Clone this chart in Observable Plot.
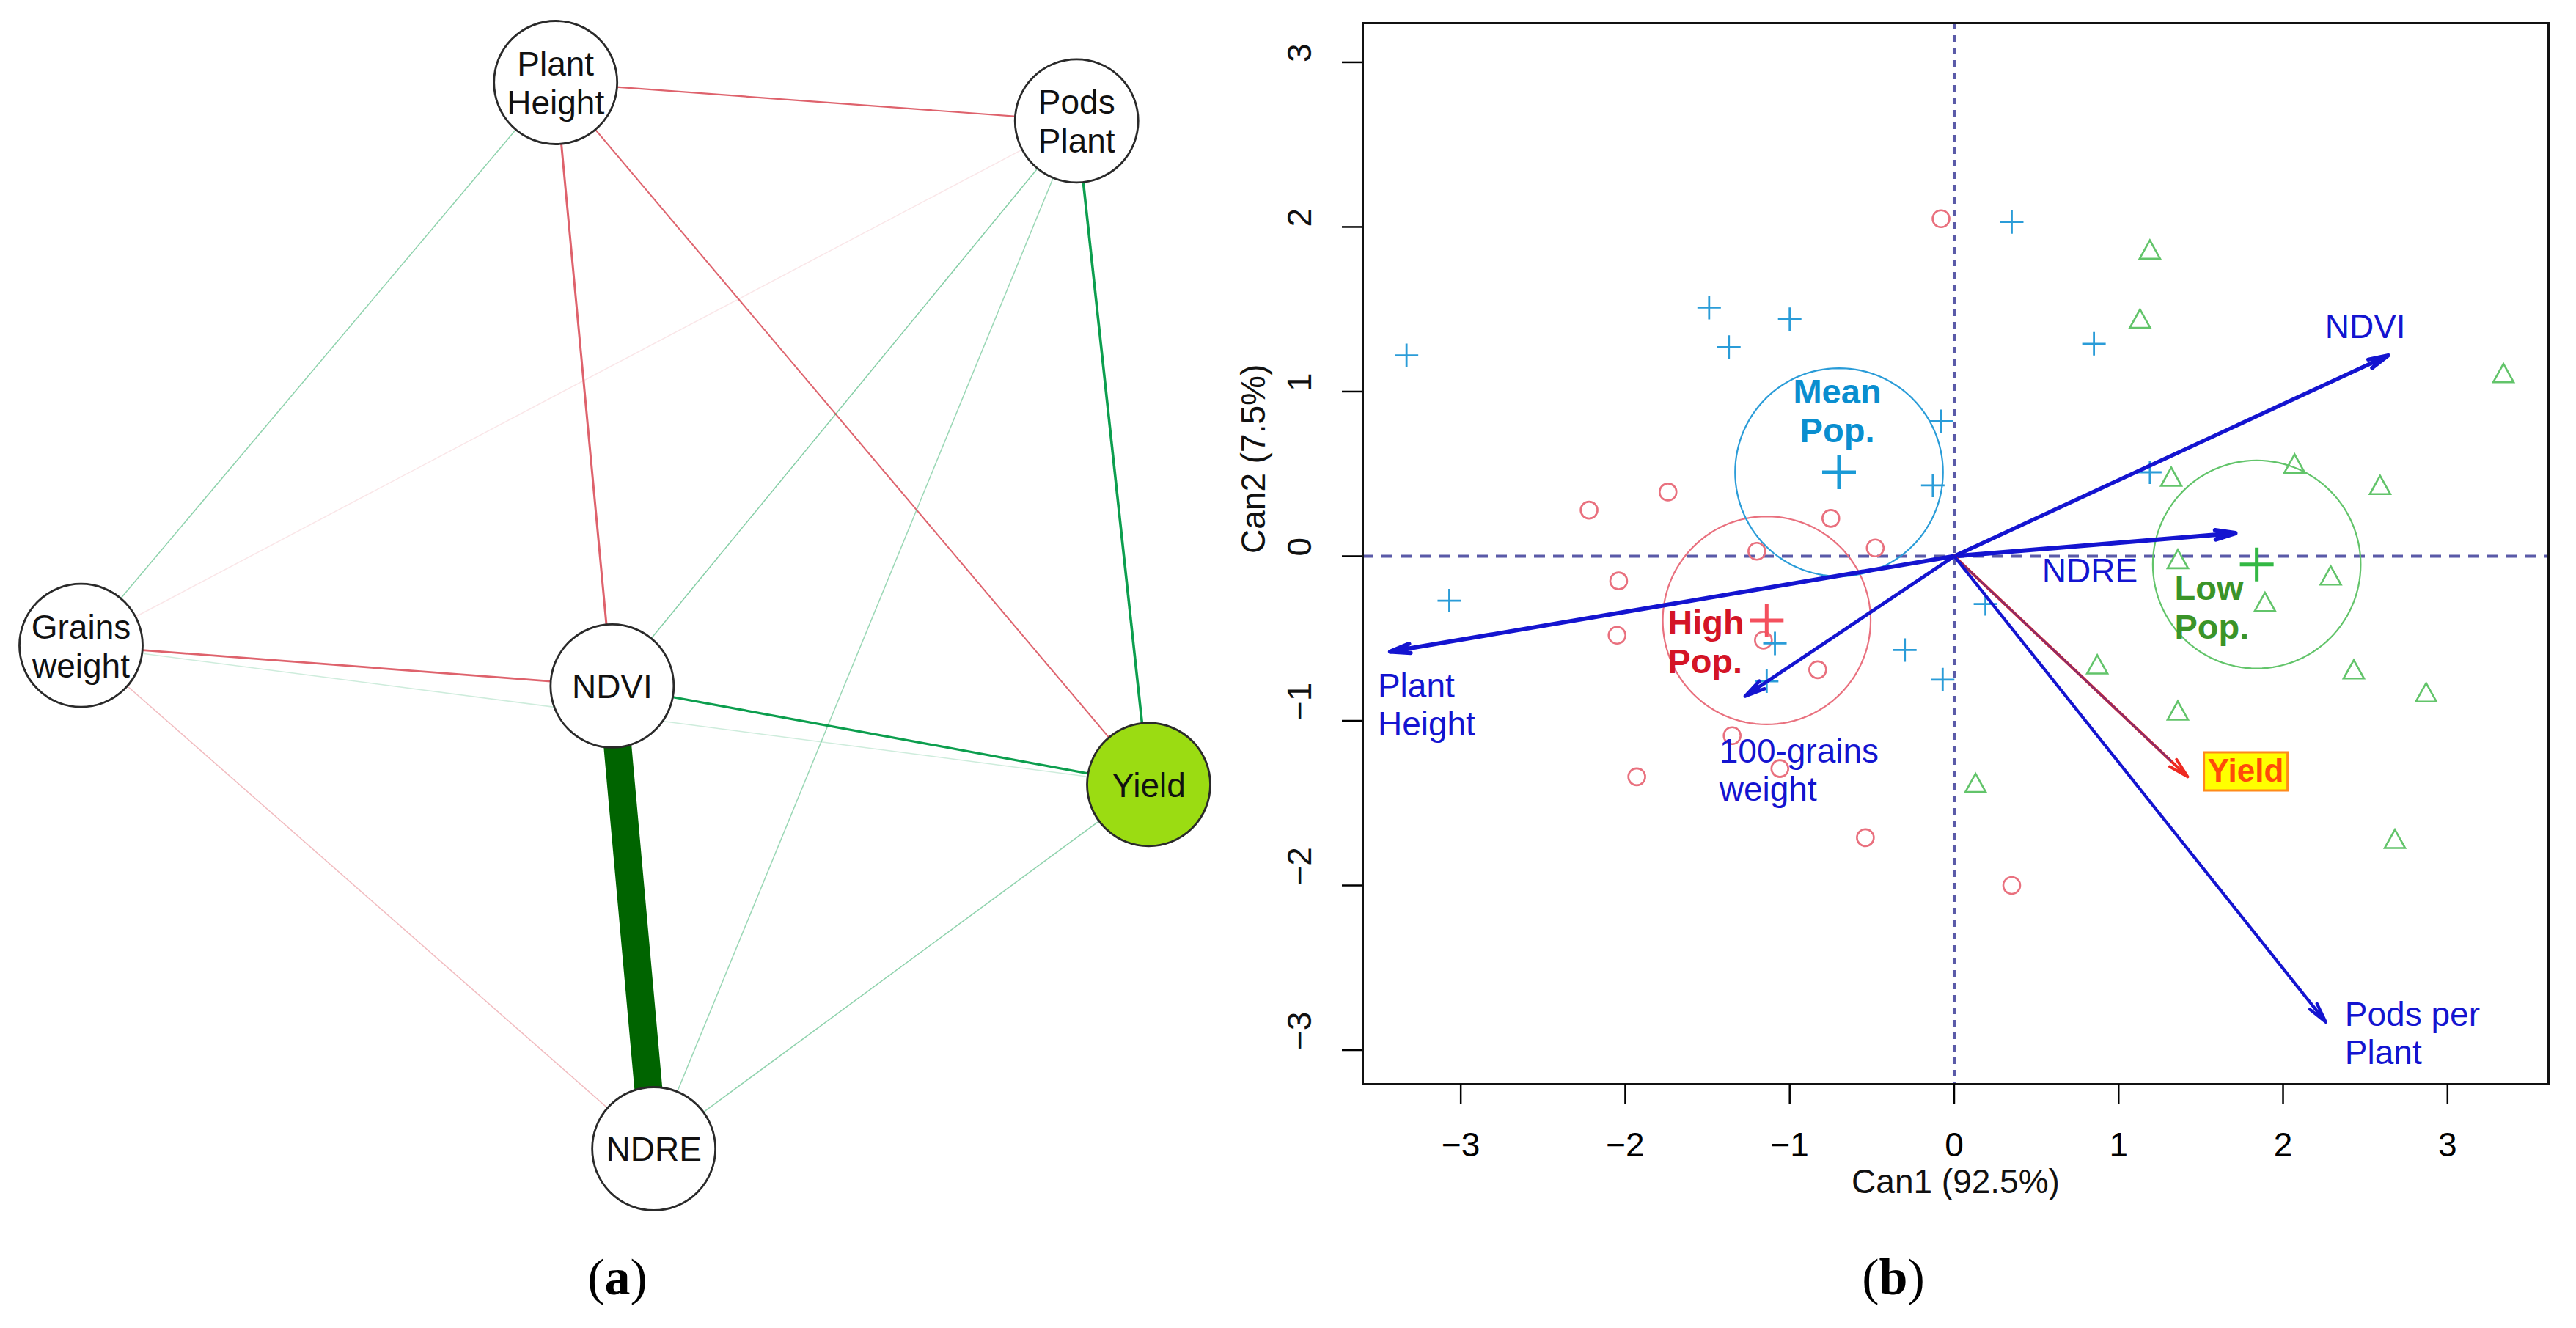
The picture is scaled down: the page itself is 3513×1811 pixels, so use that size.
<!DOCTYPE html>
<html>
<head>
<meta charset="utf-8">
<script src="https://cdn.jsdelivr.net/npm/d3@7"></script>
<script src="https://cdn.jsdelivr.net/npm/@observablehq/plot@0.6"></script>
<style>
  html, body { margin: 0; padding: 0; background: #fff; }
  #wrap { position: relative; width: 3513px; height: 1811px; background: #fff; overflow: hidden; }
  #pa { position: absolute; left: 0; top: 0; z-index: 2; }
  #pb { position: absolute; left: 1640px; top: 0; z-index: 1; }
  .cap { position: absolute; top: 1707px; width: 200px; text-align: center;
         font-family: "Liberation Serif", "Times New Roman", serif; font-size: 70px; line-height: 1; color: #000; }
</style>
</head>
<body>
<div id="wrap">
  <div id="pb"></div>
  <div id="pa"></div>
  <div class="cap" style="left:742px">(<b>a</b>)</div>
  <div class="cap" style="left:2482px">(<b>b</b>)</div>
</div>
<script>
// ---------------- Panel (a): network data ----------------
const nodeNames  = ["Plant Height", "Pods Plant", "Grains weight", "NDVI", "Yield", "NDRE"];
const nodeLabels = ["Plant\nHeight", "Pods\nPlant", "Grains\nweight", "NDVI", "Yield", "NDRE"];
// layout coordinates (normalised qgraph layout, -1..1)
const nodeLayoutX = [-0.111, 0.865, -1.000, -0.005, 1.000, 0.073];
const nodeLayoutY = [ 1.000, 0.928, -0.056, -0.132, -0.317, -1.000];
// edges (partial correlations, estimated)
const edgeFrom   = ["Plant Height", "Plant Height", "Plant Height", "Plant Height", "Pods Plant", "Pods Plant", "Pods Plant", "Pods Plant", "Grains weight", "Grains weight", "Grains weight", "NDVI", "NDVI", "NDRE"];
const edgeTo     = ["Pods Plant", "NDVI", "Yield", "Grains weight", "Yield", "NDVI", "NDRE", "Grains weight", "NDVI", "Yield", "NDRE", "Yield", "NDRE", "Yield"];
const edgeWeight = [-0.055, -0.075, -0.050, 0.028, 0.090, 0.030, 0.025, -0.008, -0.070, 0.012, -0.022, 0.080, 0.950, 0.028];

// ---------------- Panel (b): canonical discriminant data ----------------
const groups = ["High Pop.", "Mean Pop.", "Low Pop."];
const highCan1 = [-0.08, -2.22, -1.74, -0.75, -0.48, -1.20, -2.04, -2.05, -1.16, -0.83, -1.35, -1.06, -1.93, -0.54, 0.35];
const highCan2 = [ 2.05,  0.28,  0.39,  0.23,  0.05,  0.03, -0.15, -0.48, -0.51, -0.69, -1.09, -1.29, -1.34, -1.71, -2.00];
const meanCan1 = [-3.33, -1.49, -1.37, -1.00, 0.35, 0.85, -0.08, -0.13, 1.19, -3.07, -1.09, -1.14, -0.30, -0.07, 0.19];
const meanCan2 = [ 1.22,  1.51,  1.27,  1.44, 2.03, 1.29,  0.82,  0.43, 0.51, -0.27, -0.53, -0.76, -0.57, -0.75, -0.29];
const lowCan1  = [1.19, 1.13, 3.34, 2.07, 2.59, 1.32, 1.36, 2.29, 1.89, 0.87, 2.43, 2.87, 1.36, 0.13, 2.68];
const lowCan2  = [1.85, 1.43, 1.10, 0.55, 0.42, 0.47, -0.03, -0.13, -0.29, -0.67, -0.70, -0.84, -0.95, -1.39, -1.73];
const centroidCan1 = [-1.14, -0.70, 1.84];
const centroidCan2 = [-0.39, 0.51, -0.05];
const circleRadius = 0.632;           // 95% confidence radius of the group means
const groupLabelCan1 = [-1.742, -0.711, 1.340];
const groupLabelCan2 = [-0.517, 0.888, -0.306];

const varNames  = ["Plant Height", "100-grains weight", "NDVI", "NDRE", "Yield", "Pods per Plant"];
const varLabels = ["Plant\nHeight", "100-grains\nweight", "NDVI", "NDRE", "Yield", "Pods per\nPlant"];
const varCan1 = [-3.43, -1.27, 2.64, 1.71, 1.42, 2.26];
const varCan2 = [-0.58, -0.85, 1.22, 0.14, -1.34, -2.83];
const varLabelCan1 = [-3.505, -1.428, 2.500, 0.825, 1.773, 2.376];
const varLabelCan2 = [-0.900, -1.295, 1.400, -0.082, -1.307, -2.895];

const xTicks = [-3, -2, -1, 0, 1, 2, 3];
const yTicks = [-3, -2, -1, 0, 1, 2, 3];
const xAxisTitle = "Can1 (92.5%)";
const yAxisTitle = "Can2 (7.5%)";

// ---------------- Drawing panel (a) ----------------
const FONT = "Liberation Sans, Arial, Helvetica, sans-serif";
const nodes = nodeNames.map((name, i) => ({name, label: nodeLabels[i], x: nodeLayoutX[i], y: nodeLayoutY[i]}));
const nodeIndex = new Map(nodeNames.map((n, i) => [n, i]));
const edges = edgeFrom.map((f, i) => ({a: nodeIndex.get(f), b: nodeIndex.get(edgeTo[i]), w: edgeWeight[i]}));

const POS = "#0c9e4e", NEG = "#d84652", STRONG = "#006400";
const edgeMarks = edges.map(e => {
  const aw = Math.abs(e.w);
  return Plot.link([e], {
    x1: d => nodes[d.a].x, y1: d => nodes[d.a].y,
    x2: d => nodes[d.b].x, y2: d => nodes[d.b].y,
    stroke: aw > 0.5 ? STRONG : (e.w > 0 ? POS : NEG),
    strokeWidth: Math.max(1.5, 40 * aw),
    strokeOpacity: Math.min(e.w > 0 ? 1 : 0.85, aw / 0.06),
    strokeLinecap: "butt"
  });
});
const nodeMarks = nodes.map(n => Plot.dot([n], {
  x: "x", y: "y", r: 84,
  fill: n.name === "Yield" ? "#9bdc12" : "white",
  stroke: "#2a2a2a", strokeWidth: 2.8
}));

const plotA = Plot.plot({
  width: 1700, height: 1690,
  marginLeft: 110, marginRight: 134, marginTop: 112, marginBottom: 124,
  x: {domain: [-1, 1], axis: null},
  y: {domain: [-1, 1], axis: null},
  style: {background: "transparent", fontFamily: FONT, overflow: "visible"},
  marks: [
    ...edgeMarks,
    ...nodeMarks,
    Plot.text(nodes, {x: "x", y: "y", text: "label", fontSize: 46, lineHeight: 1.15, fill: "#111", fontFamily: FONT})
  ]
});
document.getElementById("pa").appendChild(plotA);

// ---------------- Drawing panel (b) ----------------
const crossSymbol = {draw(ctx, size) { const r = Math.sqrt(size / Math.PI); ctx.moveTo(-r, 0); ctx.lineTo(r, 0); ctx.moveTo(0, -r); ctx.lineTo(0, r); }};
const triSymbol = {draw(ctx, size) { const r = Math.sqrt(size / Math.PI); ctx.moveTo(0, -r); ctx.lineTo(0.9 * r, 0.62 * r); ctx.lineTo(-0.9 * r, 0.62 * r); ctx.closePath(); }};
const boxSymbol = {draw(ctx) { ctx.rect(-57, -26, 114, 52); }};

const highPts = highCan1.map((v, i) => ({x: v, y: highCan2[i]}));
const meanPts = meanCan1.map((v, i) => ({x: v, y: meanCan2[i]}));
const lowPts  = lowCan1.map((v, i) => ({x: v, y: lowCan2[i]}));

const groupColor  = ["#e9707e", "#2a9cd8", "#62c46a"];
const centerColor = ["#f4505e", "#1a9ad6", "#33b844"];
const labelColor  = ["#d41426", "#0a8ecf", "#3a9428"];

const circlePts = groups.flatMap((g, i) => d3.range(0, 361, 3).map(a => ({
  g, x: centroidCan1[i] + circleRadius * Math.cos(a * Math.PI / 180),
  y: centroidCan2[i] + circleRadius * Math.sin(a * Math.PI / 180)
})));

const VEC = "#1414d0";
const vecWidth = {"Plant Height": 4.8, "100-grains weight": 3.8, "NDVI": 4.4, "NDRE": 5, "Yield": 3, "Pods per Plant": 3.2};
const vecs = varNames.map((n, i) => ({name: n, label: varLabels[i], x: varCan1[i], y: varCan2[i], lx: varLabelCan1[i], ly: varLabelCan2[i]}));
const arrowMarks = vecs.flatMap(v => {
  const sw = vecWidth[v.name];
  if (v.name === "Yield") {
    return [
      Plot.arrow([v], {x1: () => 0, y1: () => 0, x2: "x", y2: "y", stroke: "#ee2a22", strokeWidth: sw + 1, headAngle: 28, headLength: 42 / (sw + 1)}),
      Plot.arrow([v], {x1: () => 0, y1: () => 0, x2: "x", y2: "y", stroke: "#8e2c66", strokeWidth: sw, headLength: 0, insetEnd: 32})
    ];
  }
  return [Plot.arrow([v], {x1: () => 0, y1: () => 0, x2: "x", y2: "y", stroke: VEC, strokeWidth: sw + 1, headAngle: 26, headLength: 42 / (sw + 1)})];
});
const startAnchored = new Set(["Plant Height", "100-grains weight", "Pods per Plant"]);
const varLabelMarks = vecs.filter(v => v.name !== "Yield").map(v => Plot.text([v], {
  x: "lx", y: "ly", text: "label", fill: VEC, fontSize: 46, lineHeight: 1.13, fontFamily: FONT,
  textAnchor: startAnchored.has(v.name) ? "start" : "middle"
}));
const yieldVec = vecs.find(v => v.name === "Yield");

const groupLabels = groups.map((g, i) => ({g, label: g.replace(" ", "\n"), x: groupLabelCan1[i], y: groupLabelCan2[i]}));
const groupLabelMarks = groupLabels.map((d, i) => Plot.text([d], {
  x: "x", y: "y", text: "label", fill: labelColor[i], fontWeight: "bold", fontSize: 47, lineHeight: 1.13, fontFamily: FONT,
  textAnchor: d.g === "Mean Pop." ? "middle" : "start"
}));
const centroids = groups.map((g, i) => ({g, x: centroidCan1[i], y: centroidCan2[i]}));

const plotB = Plot.plot({
  width: 1873, height: 1690,
  marginLeft: 218, marginRight: 38, marginTop: 31, marginBottom: 212,
  x: {domain: [-3.596, 3.614]},
  y: {domain: [-3.207, 3.238]},
  style: {background: "transparent", fontFamily: FONT, fontSize: "46px", overflow: "visible"},
  marks: [
    Plot.ruleX([0], {stroke: "#5a5aa8", strokeWidth: 4, strokeDasharray: "9,8"}),
    Plot.ruleY([0], {stroke: "#5a5aa8", strokeWidth: 4, strokeDasharray: "15,11"}),
    ...groups.map((g, i) => Plot.line(circlePts.filter(d => d.g === g), {x: "x", y: "y", stroke: groupColor[i], strokeWidth: 2.2})),
    Plot.dot(highPts, {x: "x", y: "y", r: 11.5, stroke: groupColor[0], strokeWidth: 2.6, fill: "none"}),
    Plot.dot(meanPts, {x: "x", y: "y", r: 16, symbol: crossSymbol, stroke: groupColor[1], strokeWidth: 2.8, fill: "none"}),
    Plot.dot(lowPts,  {x: "x", y: "y", r: 15.5, symbol: triSymbol, stroke: groupColor[2], strokeWidth: 2.6, fill: "none"}),
    ...centroids.map((c, i) => Plot.dot([c], {x: "x", y: "y", r: 23, symbol: crossSymbol, stroke: centerColor[i], strokeWidth: 5, fill: "none"})),
    ...arrowMarks,
    ...varLabelMarks,
    Plot.dot([yieldVec], {x: "lx", y: "ly", symbol: boxSymbol, fill: "#ffff00", stroke: "#ff8a1a", strokeWidth: 3}),
    Plot.text([yieldVec], {x: "lx", y: "ly", text: "label", fill: "#ff4a0a", fontWeight: "bold", fontSize: 44, fontFamily: FONT}),
    ...groupLabelMarks,
    Plot.frame({stroke: "#111", strokeWidth: 3}),
    Plot.axisX({ticks: xTicks, tickSize: 28, tickPadding: 38, strokeWidth: 2.5, fontSize: 46, label: null, fontFamily: FONT}),
    Plot.axisY({ticks: yTicks, tickSize: 28, strokeWidth: 2.5, tickFormat: () => "", label: null}),
    Plot.text(yTicks, {y: d => d, frameAnchor: "left", dx: -85, rotate: -90, text: d => d3.format("d")(d), fontSize: 46, fill: "#111", fontFamily: FONT}),
    Plot.text([xAxisTitle], {frameAnchor: "bottom", dy: 148, text: d => d, fontSize: 46, fill: "#111", fontFamily: FONT}),
    Plot.text([yAxisTitle], {frameAnchor: "left", dx: -148, rotate: -90, text: d => d, fontSize: 46, fill: "#111", fontFamily: FONT})
  ]
});
document.getElementById("pb").appendChild(plotB);
</script>
</body>
</html>
